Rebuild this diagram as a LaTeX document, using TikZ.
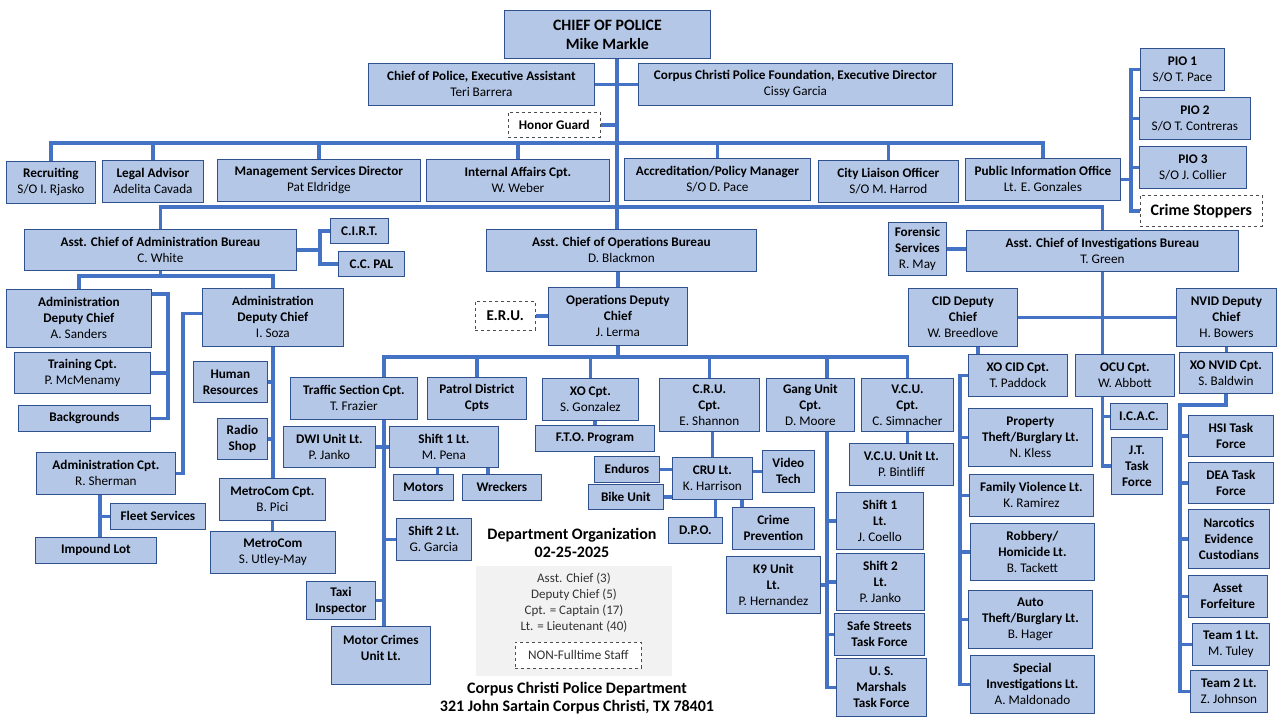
\documentclass[tikz,border=0pt]{standalone}
\usepackage{fontspec}
\setmainfont{Carlito}
\definecolor{boxfill}{HTML}{B4C7E7}
\definecolor{boxline}{HTML}{2F528F}
\definecolor{lineblue}{HTML}{4472C4}
\begin{document}
\begin{tikzpicture}[x=1pt, y=-1pt,
  box/.style 2 args={draw=boxline, fill=boxfill, line width=0.8pt, align=center,
    anchor=north west, inner sep=1pt, minimum width=#1pt, minimum height=#2pt,
    font=\fontsize{13.2}{16}\selectfont},
  dbox/.style 2 args={box={#1}{#2}, fill=white, draw=black!70, dashed, line width=0.6pt},
  link/.style={draw=lineblue, line width=3.5pt},
  caption/.style={font=\fontsize{16}{18}\selectfont\bfseries, align=center}]
\fill[white] (0,0) rectangle (1280,720);
\useasboundingbox (0,0) rectangle (1280,720);
% chief and staff
\node[box={206}{48}, font=\fontsize{15.8}{19}\selectfont\bfseries] (chief) at (504,10) {CHIEF OF POLICE\\Mike Markle};
\node[box={226}{42}] (execasst) at (368,63) {\textbf{Chief of Police, Executive Assistant}\\Teri Barrera};
\node[box={314}{42}] (found) at (638,63) {\textbf{Corpus Christi Police Foundation, Executive Director}\\Cissy Garcia};
\node[dbox={92}{25}] (honor) at (508,112) {\textbf{Honor Guard}};
\node[box={89}{42}] (recruit) at (6,161) {\textbf{Recruiting}\\S/O I. Rjasko};
\node[box={101}{42}] (legal) at (102,160) {\textbf{Legal Advisor}\\Adelita Cavada};
\node[box={203}{42}] (mgmt) at (217,159) {\textbf{Management Services Director}\\Pat Eldridge};
\node[box={183}{42}] (ia) at (426,159) {\textbf{Internal Affairs Cpt.}\\W. Weber};
\node[box={186}{42}] (accred) at (624,158) {\textbf{Accreditation/Policy Manager}\\S/O D. Pace};
\node[box={140}{42}] (liaison) at (818,160) {\textbf{City Liaison Officer}\\S/O M. Harrod};
\node[box={155}{42}] (pio) at (965,158) {\textbf{Public Information Office}\\Lt. E. Gonzales};
\node[box={84}{42}] (pio1) at (1140,48) {\textbf{PIO 1}\\S/O T. Pace};
\node[box={111}{42}] (pio2) at (1139,97) {\textbf{PIO 2}\\S/O T. Contreras};
\node[box={107}{42}] (pio3) at (1139,146) {\textbf{PIO 3}\\S/O J. Collier};
\node[dbox={122}{31}, font=\fontsize{16}{18}\selectfont\bfseries] (crime) at (1140,195) {Crime Stoppers};
% bureaus
\node[box={272}{41}] (admin) at (24,229) {\textbf{Asst. Chief of Administration Bureau}\\C. White};
\node[box={58}{25}] (cirt) at (330,218) {\textbf{C.I.R.T.}};
\node[box={66}{25}] (ccpal) at (338,251) {\textbf{C.C. PAL}};
\node[box={270}{42}] (ops) at (486,229) {\textbf{Asst. Chief of Operations Bureau}\\D. Blackmon};
\node[box={58}{53}] (forensic) at (888,222) {\textbf{Forensic}\\\textbf{Services}\\R. May};
\node[box={272}{41}] (invest) at (966,230) {\textbf{Asst. Chief of Investigations Bureau}\\T. Green};
% administration
\node[box={145}{58}] (adcs) at (6,289) {\textbf{Administration}\\\textbf{Deputy Chief}\\A. Sanders};
\node[box={136}{41}] (training) at (14,352) {\textbf{Training Cpt.}\\P. McMenamy};
\node[box={132}{26}] (backgr) at (18,405) {\textbf{Backgrounds}};
\node[box={141}{58}] (adcz) at (202,288) {\textbf{Administration}\\\textbf{Deputy Chief}\\I. Soza};
\node[box={74}{41}] (hr) at (193,361) {\textbf{Human}\\\textbf{Resources}};
\node[box={50}{41}] (radio) at (217,418) {\textbf{Radio}\\\textbf{Shop}};
\node[box={139}{42}] (admincpt) at (36,452) {\textbf{Administration Cpt.}\\R. Sherman};
\node[box={95}{26}] (fleet) at (110,503) {\textbf{Fleet Services}};
\node[box={121}{26}] (impound) at (35,537) {\textbf{Impound Lot}};
\node[box={106}{42}] (metrocpt) at (219,478) {\textbf{MetroCom Cpt.}\\B. Pici};
\node[box={125}{42}] (metro) at (210,531) {\textbf{MetroCom}\\S. Utley-May};
% operations
\node[box={139}{58}] (odc) at (548,287) {\textbf{Operations Deputy}\\\textbf{Chief}\\J. Lerma};
\node[dbox={60}{29}, font=\fontsize{15}{17}\selectfont\bfseries] (eru) at (475,301) {E.R.U.};
\node[box={127}{42}] (traffic) at (290,377) {\textbf{Traffic Section Cpt.}\\T. Frazier};
\node[box={99}{42}] (patrol) at (427,377) {\textbf{Patrol District}\\\textbf{Cpts}};
\node[box={96}{42}] (xo) at (542,378) {\textbf{XO Cpt.}\\S. Gonzalez};
\node[box={119}{26}] (fto) at (535,425) {\textbf{F.T.O. Program}};
\node[box={100}{53}] (cru) at (659,378) {\textbf{C.R.U.}\\\textbf{Cpt.}\\E. Shannon};
\node[box={88}{53}] (gang) at (766,378) {\textbf{Gang Unit}\\\textbf{Cpt.}\\D. Moore};
\node[box={92}{53}] (vcu) at (861,378) {\textbf{V.C.U.}\\\textbf{Cpt.}\\C. Simnacher};
\node[box={104}{42}] (vcult) at (849,443) {\textbf{V.C.U. Unit Lt.}\\P. Bintliff};
\node[box={92}{41}] (dwi) at (283,426) {\textbf{DWI Unit Lt.}\\P. Janko};
\node[box={109}{41}] (shift1) at (389,426) {\textbf{Shift 1 Lt.}\\M. Pena};
\node[box={60}{26}] (motors) at (393,474) {\textbf{Motors}};
\node[box={79}{26}] (wreck) at (462,474) {\textbf{Wreckers}};
\node[box={75}{42}] (shift2) at (396,518) {\textbf{Shift 2 Lt.}\\G. Garcia};
\node[box={69}{38}] (taxi) at (306,581) {\textbf{Taxi}\\\textbf{Inspector}};
\node[box={99}{58}] (motorcr) at (331,626) {\textbf{Motor Crimes}\\\textbf{Unit Lt.}\\\mbox{}};
\node[box={80}{42}] (crult) at (672,457) {\textbf{CRU Lt.}\\K. Harrison};
\node[box={65}{26}] (enduros) at (594,456) {\textbf{Enduros}};
\node[box={75}{25}] (bike) at (588,484) {\textbf{Bike Unit}};
\node[box={52}{42}] (video) at (762,450) {\textbf{Video}\\\textbf{Tech}};
\node[box={54}{26}] (dpo) at (668,517) {\textbf{D.P.O.}};
\node[box={82}{42}] (crimeprev) at (732,507) {\textbf{Crime}\\\textbf{Prevention}};
\node[box={87}{57}] (gshift1) at (836,492) {\textbf{Shift 1}\\\textbf{Lt.}\\J. Coello};
\node[box={94}{57}] (k9) at (726,556) {\textbf{K9 Unit}\\\textbf{Lt.}\\P. Hernandez};
\node[box={88}{57}] (gshift2) at (836,553) {\textbf{Shift 2}\\\textbf{Lt.}\\P. Janko};
\node[box={90}{42}] (safe) at (834,613) {\textbf{Safe Streets}\\\textbf{Task Force}};
\node[box={90}{58}] (marshals) at (836,658) {\textbf{U. S.}\\\textbf{Marshals}\\\textbf{Task Force}};
% investigations
\node[box={109}{58}] (cid) at (908,288) {\textbf{CID Deputy}\\\textbf{Chief}\\W. Breedlove};
\node[box={100}{58}] (nvid) at (1176,288) {\textbf{NVID Deputy}\\\textbf{Chief}\\H. Bowers};
\node[box={99}{42}] (xocid) at (968,354) {\textbf{XO CID Cpt.}\\T. Paddock};
\node[box={99}{42}] (ocu) at (1075,354) {\textbf{OCU Cpt.}\\W. Abbott};
\node[box={93}{41}] (xonvid) at (1179,352) {\textbf{XO NVID Cpt.}\\S. Baldwin};
\node[box={124}{58}] (prop) at (968,408) {\textbf{Property}\\\textbf{Theft/Burglary Lt.}\\N. Kless};
\node[box={124}{42}] (family) at (969,474) {\textbf{Family Violence Lt.}\\K. Ramirez};
\node[box={124}{57}] (robbery) at (970,523) {\textbf{Robbery/}\\\textbf{Homicide Lt.}\\B. Tackett};
\node[box={124}{58}] (auto) at (968,590) {\textbf{Auto}\\\textbf{Theft/Burglary Lt.}\\B. Hager};
\node[box={124}{58}] (special) at (970,655) {\textbf{Special}\\\textbf{Investigations Lt.}\\A. Maldonado};
\node[box={57}{26}] (icac) at (1110,403) {\textbf{I.C.A.C.}};
\node[box={51}{57}] (jt) at (1111,437) {\textbf{J.T.}\\\textbf{Task}\\\textbf{Force}};
\node[box={85}{41}] (hsi) at (1188,415) {\textbf{HSI Task}\\\textbf{Force}};
\node[box={85}{41}] (dea) at (1188,462) {\textbf{DEA Task}\\\textbf{Force}};
\node[box={81}{59}] (narc) at (1188,509) {\textbf{Narcotics}\\\textbf{Evidence}\\\textbf{Custodians}};
\node[box={79}{42}] (asset) at (1188,575) {\textbf{Asset}\\\textbf{Forfeiture}};
\node[box={77}{42}] (team1) at (1192,623) {\textbf{Team 1 Lt.}\\M. Tuley};
\node[box={77}{42}] (team2) at (1190,670) {\textbf{Team 2 Lt.}\\Z. Johnson};
% legend
\node[caption] (orgtitle) at (572,543) {Department Organization\\02-25-2025};
\node[fill=black!5, anchor=north west, minimum width=196pt, minimum height=110pt] (legend) at (476,566) {};
\node[align=center, font=\fontsize{13}{16}\selectfont, text=black!80] (ranks) at (574,603) {Asst. Chief (3)\\Deputy Chief (5)\\Cpt. = Captain (17)\\Lt. = Lieutenant (40)};
\node[dbox={126}{26}, font=\fontsize{13.2}{16}\selectfont\color{black!80}] (nonfull) at (515,642) {NON-Fulltime Staff};
\node[caption, font=\fontsize{16}{18}\selectfont\bfseries] (footer) at (577,698) {Corpus Christi Police Department\\321 John Sartain Corpus Christi, TX 78401};
% connectors
\coordinate (trunk) at (617,0);
\coordinate (bus1) at (0,143);
\coordinate (bus2) at (0,207);
\draw[link] (chief.south -| trunk) -- (ops.north -| trunk);
\draw[link] (execasst.east) -- (execasst.east -| trunk);
\draw[link] (found.west) -- (found.west -| trunk);
\draw[link] (honor.east) -- (honor.east -| trunk);
\draw[link] (recruit.north) |- (pio.north |- bus1) -- (pio.north);
\foreach \n in {legal, mgmt, ia, accred, liaison}
  \draw[link] (\n.north) -- (\n.north |- bus1);
\coordinate (piobus) at (1131,0);
\draw[link] (pio.east) -- (pio.east -| piobus);
\draw[link] (pio1.west) -| (piobus |- crime.west) -- (crime.west);
\draw[link] (pio2.west) -- (pio2.west -| piobus);
\draw[link] (pio3.west) -- (pio3.west -| piobus);
\draw[link] (admin.north) |- (invest.north |- bus2) -- (invest.north);
\coordinate (cbus) at (320,0);
\draw[link] (admin.east) -- (admin.east -| cbus);
\draw[link] (cirt.west) -| (cbus |- ccpal.west) -- (ccpal.west);
\draw[link] (forensic.east) -- (invest.west |- forensic.east);
% administration connectors
\coordinate (abus) at (0,276);
\draw[link] (admin.south) -- (admin.south |- abus);
\draw[link] (adcs.north) |- (adcz.north |- abus) -- (adcz.north);
\coordinate (sbus) at (168,0);
\draw[link] ([yshift=-5pt]adcs.north east) -| (sbus |- backgr.east) -- (backgr.east);
\draw[link] (training.east) -- (training.east -| sbus);
\coordinate (zbus) at (183,0);
\draw[link] ([yshift=4pt]adcz.west) -| (zbus |- admincpt.east) -- (admincpt.east);
\coordinate (acbus) at (100,0);
\draw[link] (admincpt.south -| acbus) -- (impound.north -| acbus);
\draw[link] (fleet.west) -- (fleet.west -| acbus);
\draw[link] (adcz.south) -- (adcz.south |- metrocpt.north);
\draw[link] (hr.east) -- (hr.east -| adcz.south);
\draw[link] (radio.east) -- (radio.east -| adcz.south);
\draw[link] (metrocpt.south) -- (metrocpt.south |- metro.north);
% operations connectors
\coordinate (obus) at (0,357);
\coordinate (tbus) at (384,0);
\coordinate (gbus) at (827,0);
\draw[link] (ops.south -| odc.north) -- (odc.north);
\draw[link] (eru.east) -- (eru.east -| odc.west);
\draw[link] (odc.south) -- (odc.south |- obus);
\draw[link] (traffic.north -| tbus) |- (vcu.north |- obus) -- (vcu.north);
\foreach \n in {patrol, xo, cru}
  \draw[link] (\n.north) -- (\n.north |- obus);
\draw[link] (gang.north -| gbus) -- (gbus |- obus);
\draw[link] (xo.south -| fto.north) -- (fto.north);
\draw[link] (vcu.south) -- (vcu.south |- vcult.north);
\draw[link] (traffic.south -| tbus) -- (motorcr.north -| tbus);
\draw[link] (dwi.east) -- (shift1.west |- dwi.east);
\draw[link] ([xshift=14pt]motors.north) -- ([xshift=14pt]motors.north |- shift1.south);
\draw[link] ([xshift=-14pt]wreck.north) -- ([xshift=-14pt]wreck.north |- shift1.south);
\draw[link] (shift2.west) -- (shift2.west -| tbus);
\draw[link] (taxi.east) -- (taxi.east -| tbus);
\draw[link] (cru.south -| crult.north) -- (crult.north);
\draw[link] (enduros.east) -- (enduros.east -| crult.west);
\draw[link] (bike.east) -- (bike.east -| crult.west);
\draw[link] (video.west) -- (video.west -| crult.east);
\draw[link] ([xshift=3pt]crult.south) -- ([xshift=3pt]crult.south |- dpo.north);
\draw[link] ([xshift=-11pt]crult.south east) -- ([xshift=-11pt]crult.south east |- crimeprev.north);
\draw[link] (gang.south -| gbus) |- (marshals.west);
\foreach \n in {gshift1, gshift2, safe}
  \draw[link] (\n.west) -- (\n.west -| gbus);
\draw[link] (k9.east) -- (k9.east -| gbus);
% investigations connectors
\coordinate (cidx) at ([xshift=10pt]xocid.north west);
\coordinate (cidbus) at (960,0);
\coordinate (nbus) at (1180,0);
\draw[link] (invest.south) -- (invest.south |- ocu.north);
\draw[link] (cid.east) -- (nvid.west);
\draw[link] (cidx) -- (cidx |- cid.south);
\draw[link] (xocid.west) -| (cidbus |- special.west) -- (special.west);
\foreach \n in {prop, family, robbery, auto}
  \draw[link] (\n.west) -- (\n.west -| cidbus);
\draw[link] (ocu.south -| invest.south) |- (jt.west);
\draw[link] (icac.west) -- (icac.west -| invest.south);
\draw[link] (nvid.south) -- (nvid.south |- xonvid.north);
\draw[link] (xonvid.south) -- ++(0,11) -| (nbus |- team2.west) -- (team2.west);
\foreach \n in {hsi, dea, narc, asset, team1}
  \draw[link] (\n.west) -- (\n.west -| nbus);
\end{tikzpicture}
\end{document}
